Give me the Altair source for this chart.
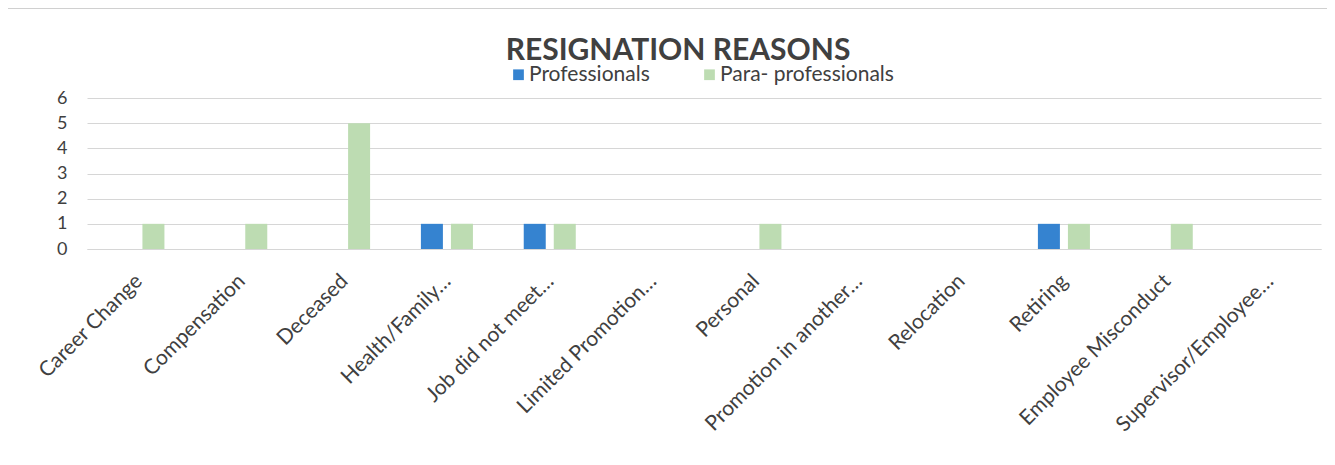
import altair as alt
import pandas as pd

categories = [
    "Career Change", "Compensation", "Deceased", "Health/Family…",
    "Job did not meet…", "Limited Promotion…", "Personal",
    "Promotion in another…", "Relocation", "Retiring",
    "Employee Misconduct", "Supervisor/Employee…",
]
series = ["Professionals", "Para- professionals"]
professionals = [0, 0, 0, 1, 1, 0, 0, 0, 0, 1, 0, 0]
para_professionals = [1, 1, 5, 1, 1, 0, 1, 0, 0, 1, 1, 0]
colors = ["#3583d0", "#bddcb2"]
y_ticks = [0, 1, 2, 3, 4, 5, 6]
title_text = "RESIGNATION REASONS"

rows = []
for i, c in enumerate(categories):
    rows.append({"reason": c, "group": series[0], "count": professionals[i]})
    rows.append({"reason": c, "group": series[1], "count": para_professionals[i]})
df = pd.DataFrame(rows)

FONT = "Lato"
TXT = "#404040"

bars = alt.Chart(df).mark_bar().encode(
    x=alt.X("reason:N", sort=categories, title=None,
            scale=alt.Scale(paddingInner=0.494, paddingOuter=0.247),
            axis=alt.Axis(labelAngle=-45, labelFont=FONT, labelFontSize=21,
                          labelColor=TXT, labelPadding=21, labelOffset=-7,
                          ticks=False, domainColor="#d6d6d6", labelLimit=300)),
    xOffset=alt.XOffset("group:N", sort=series,
                        scale=alt.Scale(paddingInner=0.267, paddingOuter=0)),
    y=alt.Y("count:Q", title=None,
            scale=alt.Scale(domain=[0, 6]),
            axis=alt.Axis(values=y_ticks, labelFont=FONT, labelFontSize=18,
                          labelColor=TXT, labelPadding=20, ticks=False,
                          domain=False, grid=True, gridColor="#d6d6d6")),
    color=alt.Color("group:N", sort=series,
                    scale=alt.Scale(domain=series, range=colors),
                    legend=alt.Legend(title=None, orient="none", direction="horizontal",
                                      legendX=421, legendY=-34,
                                      symbolType="square", symbolSize=115,
                                      symbolStrokeWidth=0,
                                      labelFont=FONT, labelFontSize=21,
                                      labelColor=TXT, labelOffset=0,
                                      labelLimit=400, columnPadding=49)),
)

one = pd.DataFrame({"a": [0]})

frame = alt.Chart(one).mark_rect(
    filled=False, stroke="#d0d0d0", strokeWidth=1
).encode(
    x=alt.value(-80), x2=alt.value(1400),
    y=alt.value(-89.5), y2=alt.value(600),
)

title = alt.Chart(one).mark_text(
    text=title_text, font=FONT, fontSize=30, fontWeight="bold", color=TXT,
    align="center", baseline="alphabetic",
).encode(x=alt.value(591), y=alt.value(-38))

chart = alt.layer(frame, bars, title).properties(
    width=1234, height=151,
    autosize=alt.AutoSizeParams(type="none"),
    padding={"left": 79, "top": 90, "right": 6, "bottom": 200},
).configure_view(stroke=None)

chart.save("out.html", embed_options={"renderer": "svg", "actions": False})
